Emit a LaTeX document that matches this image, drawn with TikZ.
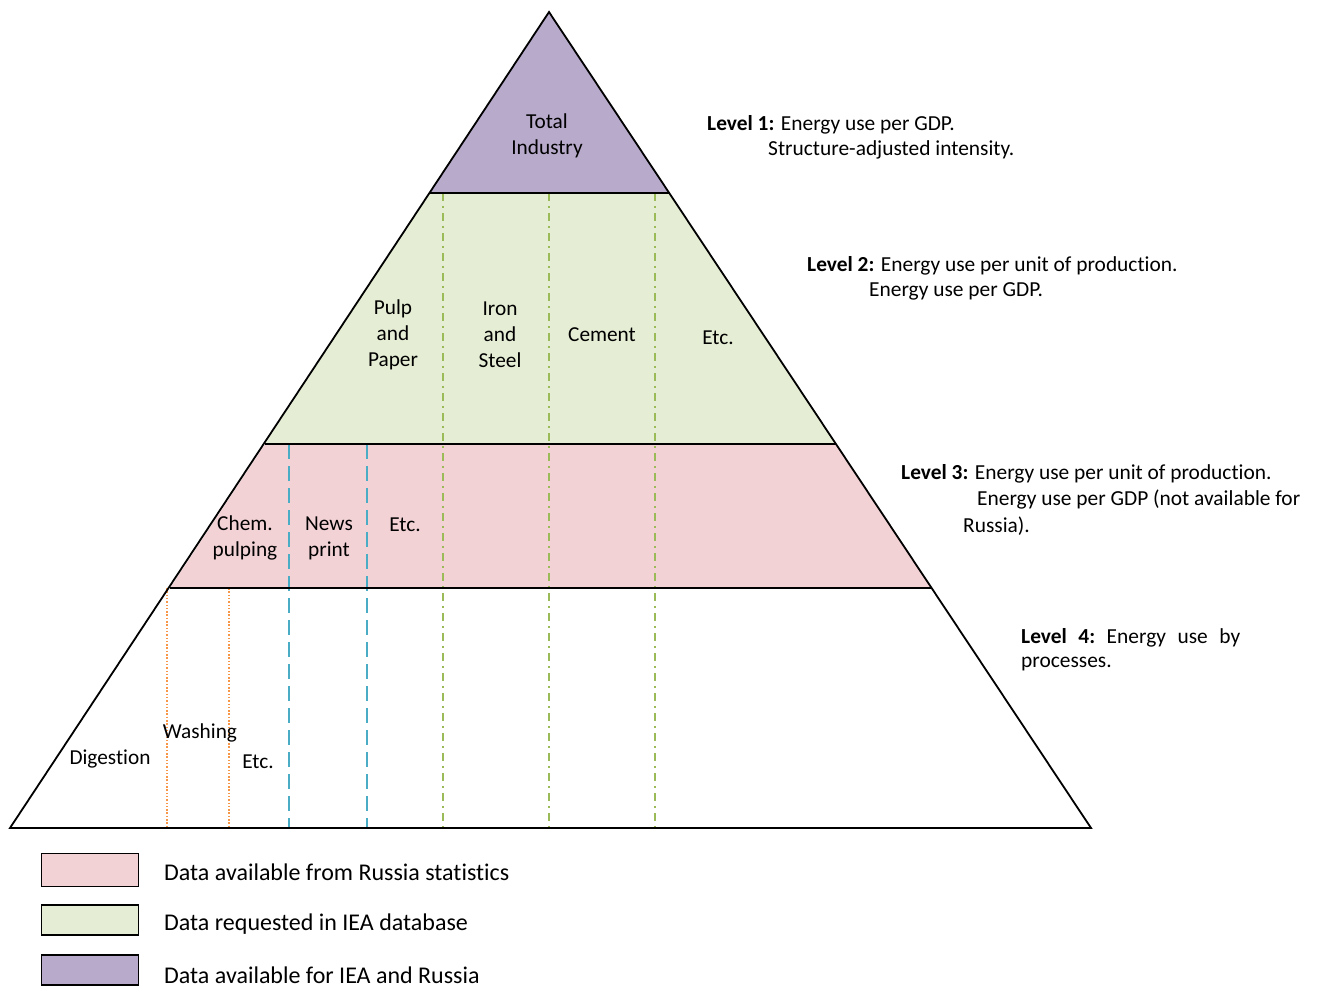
\documentclass[tikz,border=0pt]{standalone}
\usepackage{fontspec}
\setmainfont[Ligatures=NoCommon]{Carlito}
\definecolor{purp}{HTML}{B8AACB}
\definecolor{grn}{HTML}{E5EED5}
\definecolor{pnk}{HTML}{F3D2D5}
\definecolor{lgrn}{HTML}{9BBB59}
\definecolor{lblue}{HTML}{4BACC6}
\definecolor{lorng}{HTML}{F79646}
\begin{document}
\begin{tikzpicture}[x=1pt,y=-1pt,
  txt/.style={font=\fontsize{21.3}{26}\selectfont, inner sep=0pt, align=center},
  lvl/.style={font=\fontsize{21.4}{26}\selectfont, inner sep=0pt, anchor=west},
  leg/.style={font=\fontsize{24}{28}\selectfont, inner sep=0pt, anchor=west},
  greenline/.style={lgrn, line width=1.4pt, dash pattern=on 8pt off 5pt on 2pt off 5pt},
  blueline/.style={lblue, line width=1.8pt, dash pattern=on 15pt off 7pt},
  orangeline/.style={lorng, line width=1.4pt, dash pattern=on 1.5pt off 1.8pt},
  edge/.style={black, line width=1.8pt},
  legbox/.style={draw=black, line width=1.8pt}]
\useasboundingbox (0,0) rectangle (1319,987);
% key points
\coordinate (apex) at (549,12);
\coordinate (bl) at (10,828);
\coordinate (br) at (1091,828);
\coordinate (l1) at (429,193);
\coordinate (r1) at (669,193);
\coordinate (l2) at (265,444);
\coordinate (r2) at (836,444);
\coordinate (l3) at (170,588);
\coordinate (r3) at (931,588);
% fills
\fill[purp] (apex) -- (r1) -- (l1) -- cycle;
\fill[grn] (l1) -- (r1) -- (r2) -- (l2) -- cycle;
\fill[pnk] (l2) -- (r2) -- (r3) -- (l3) -- cycle;
% vertical lines
\coordinate (g1t) at (443,193); \coordinate (g1b) at (443,828);
\coordinate (g2t) at (549,193); \coordinate (g2b) at (549,828);
\coordinate (g3t) at (655,193); \coordinate (g3b) at (655,828);
\coordinate (b1t) at (289,444); \coordinate (b1b) at (289,828);
\coordinate (b2t) at (367,444); \coordinate (b2b) at (367,828);
\coordinate (o1t) at (167,588); \coordinate (o1b) at (167,828);
\coordinate (o2t) at (229,588); \coordinate (o2b) at (229,828);
\draw[greenline] (g1t) -- (g1b);
\draw[greenline] (g2t) -- (g2b);
\draw[greenline] (g3t) -- (g3b);
\draw[blueline] (b1t) -- (b1b);
\draw[blueline] (b2t) -- (b2b);
\draw[orangeline] (o1t) -- (o1b);
\draw[orangeline] (o2t) -- (o2b);
% outline and level lines
\draw[edge, line join=miter] (apex) -- (br) -- (bl) -- cycle;
\draw[edge] (l1) -- (r1);
\draw[edge] (l2) -- (r2);
\draw[edge] (l3) -- (r3);
% labels in pyramid
\node[txt] (total) at (547,136) {Total\\Industry};
\node[txt] (pulp) at (393,335) {Pulp\\and\\Paper};
\node[txt] (iron) at (500,335) {Iron\\and\\Steel};
\node[txt] (cement) at (602,335) {Cement};
\node[txt] (etc2) at (718,338) {Etc.};
\node[txt] (chem) at (245,538) {Chem.\\pulping};
\node[txt] (news) at (329,538) {News\\print};
\node[txt] (etc3) at (405,525) {Etc.};
\node[txt] (dig) at (110,759) {Digestion};
\node[txt] (wash) at (200,733) {Washing};
\node[txt] (etc4) at (258,762) {Etc.};
% level descriptions
\node[lvl] (lv1a) at (707,125) {\textbf{Level 1:} Energy use per GDP.};
\node[lvl] (lv1b) at (768,150) {Structure-adjusted intensity.};
\node[lvl] (lv2a) at (807,266) {\textbf{Level 2:} Energy use per unit of production.};
\node[lvl] (lv2b) at (869,291) {Energy use per GDP.};
\node[lvl] (lv3a) at (901,474) {\textbf{Level 3:} Energy use per unit of production.};
\node[lvl] (lv3b) at (977,500) {Energy use per GDP (not available for};
\node[lvl] (lv3c) at (963,526) {Russia).};
\node[lvl] (lv4a) at (1021,638) {\makebox[219pt][s]{\textbf{Level\hfill 4:}\hfill Energy\hfill use\hfill by}};
\node[lvl] (lv4b) at (1021,664) {processes.};
% legend
\node[legbox, fill=pnk, minimum width=97pt, minimum height=33pt, inner sep=0pt] (k1) at (90,870) {};
\node[legbox, fill=grn, minimum width=97pt, minimum height=30pt, inner sep=0pt] (k2) at (90,920) {};
\node[legbox, fill=purp, minimum width=97pt, minimum height=30pt, inner sep=0pt] (k3) at (90,970) {};
\node[leg] (t1) at (164,872) {Data available from Russia statistics};
\node[leg] (t2) at (164,924) {Data requested in IEA database};
\node[leg] (t3) at (164,975) {Data available for IEA and Russia};
\end{tikzpicture}
\end{document}
